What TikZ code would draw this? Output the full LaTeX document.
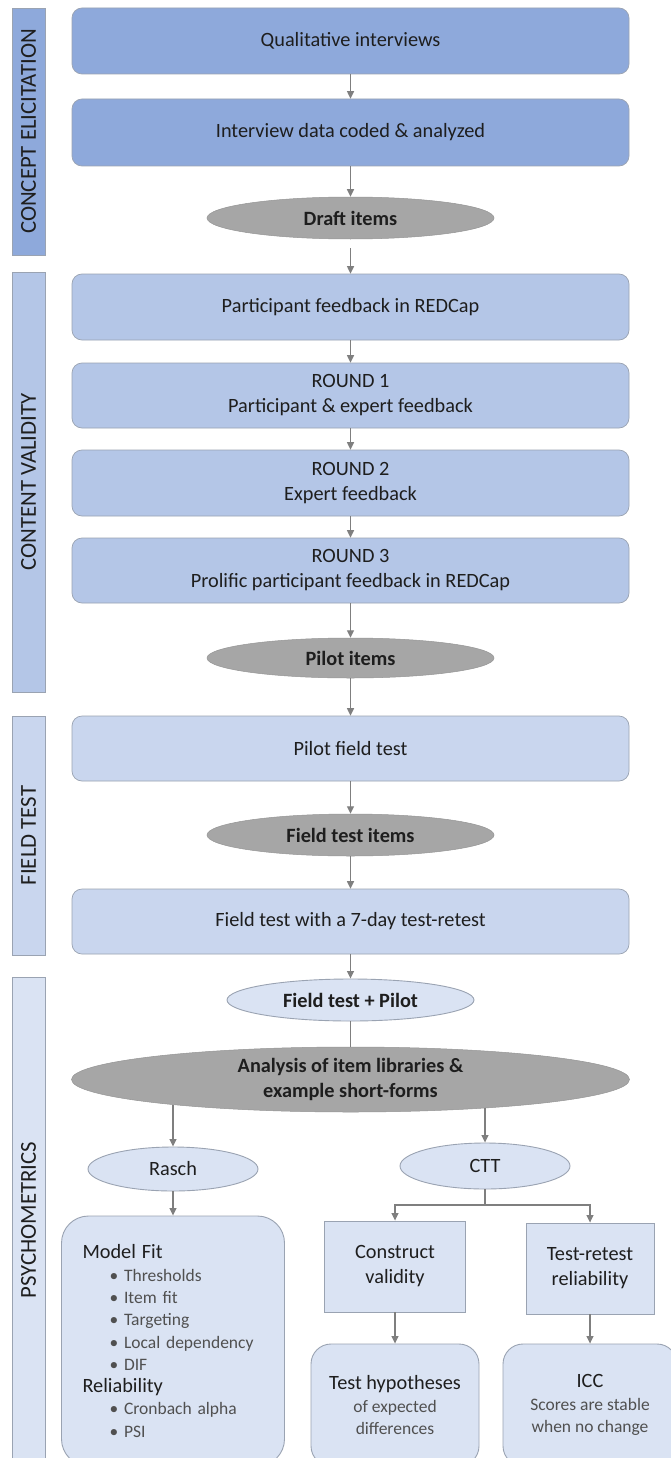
\documentclass[tikz,border=0pt]{standalone}
\usepackage{fontspec}
\setmainfont{Carlito}
\usetikzlibrary{shapes.geometric,arrows.meta}
\definecolor{conceptc}{HTML}{8EA9DB}
\definecolor{contentc}{HTML}{B4C6E7}
\definecolor{fieldc}{HTML}{C9D6EE}
\definecolor{psychc}{HTML}{DAE3F3}
\definecolor{ovalc}{HTML}{A6A6A6}
\definecolor{bordc}{HTML}{9AA3B2}
\definecolor{arrc}{HTML}{7F7F7F}
\definecolor{txtc}{HTML}{1E1E1E}
\definecolor{subc}{HTML}{505050}
\newcommand{\mainfs}{\fontsize{20.3}{25}\selectfont}
\newcommand{\smallfs}{\fontsize{17.5}{22.3}\selectfont}
\newcommand{\barfs}{\fontsize{22.8}{25}\selectfont}
\tikzset{
  stagebox/.style={draw=bordc, line width=0.7pt, rounded corners=10pt, minimum width=557pt, align=center, inner sep=0pt, font=\mainfs, text=txtc},
  greyoval/.style={ellipse, fill=ovalc, draw=ovalc!90!black, line width=0.5pt, inner sep=0pt, font=\mainfs\bfseries, text=txtc, align=center},
  lightoval/.style={ellipse, fill=psychc, draw=bordc, line width=0.9pt, inner sep=0pt, font=\mainfs, text=txtc},
  psychbox/.style={draw=bordc, line width=0.9pt, fill=psychc, inner sep=0pt, font=\mainfs, text=txtc},
  phasebar/.style={draw=bordc, line width=0.8pt, rotate=90, minimum height=33pt, inner sep=0pt, font=\barfs, text=txtc},
  arr/.style={draw=arrc, line width=1.2pt, -{Triangle[length=7.5pt,width=7pt]}},
  plainline/.style={draw=arrc, line width=1.2pt},
}
\begin{document}
\begin{tikzpicture}[x=1pt,y=-1pt]
\useasboundingbox (0,0) rectangle (671,1458);
\clip (0,0) rectangle (671,1458);
\fill[white] (0,0) rectangle (671,1458);

% phase bars
\node[phasebar, fill=conceptc, minimum width=247pt] (bar1) at (28.5,131.5) {CONCEPT ELICITATION};
\node[phasebar, fill=contentc, minimum width=420pt] (bar2) at (28.5,482) {CONTENT VALIDITY};
\node[phasebar, fill=fieldc, minimum width=239pt] (bar3) at (28.5,835.5) {FIELD TEST};
\node[phasebar, fill=psychc, minimum width=486pt] (bar4) at (28.5,1220) {PSYCHOMETRICS};

% concept elicitation
\node[stagebox, fill=conceptc, minimum height=66pt] (qi) at (350.5,41) {Qualitative interviews};
\node[stagebox, fill=conceptc, minimum height=67pt] (idc) at (350.5,132.5) {Interview data coded \& analyzed};
\node[greyoval, minimum width=287pt, minimum height=42pt] (draft) at (350.5,218) {Draft items};

% content validity
\node[stagebox, fill=contentc, minimum height=66pt] (pf) at (350.5,307) {Participant feedback in REDCap};
\node[stagebox, fill=contentc, minimum height=65pt] (r1) at (350.5,395.5) {ROUND 1\\Participant \& expert feedback};
\node[stagebox, fill=contentc, minimum height=66pt] (r2) at (350.5,483) {ROUND 2\\Expert feedback};
\node[stagebox, fill=contentc, minimum height=65pt] (r3) at (350.5,570.5) {ROUND 3\\Prolific participant feedback in REDCap};
\node[greyoval, minimum width=287pt, minimum height=40pt] (pilot) at (350.5,658) {Pilot items};

% field test
\node[stagebox, fill=fieldc, minimum height=65pt] (pft) at (350.5,748.5) {Pilot field test};
\node[greyoval, minimum width=287pt, minimum height=42pt] (fti) at (350.5,835) {Field test items};
\node[stagebox, fill=fieldc, minimum height=65pt] (ft7) at (350.5,921.5) {Field test with a 7-day test-retest};

% psychometrics
\node[lightoval, font=\mainfs\bfseries, minimum width=247pt, minimum height=42pt] (ftp) at (350.5,1000) {Field test + Pilot};
\node[greyoval, minimum width=558pt, minimum height=65pt] (ana) at (350.5,1079.5) {Analysis of item libraries \&\\example short-forms};
\node[lightoval, minimum width=170pt, minimum height=44pt] (rasch) at (173,1169) {Rasch};
\node[lightoval, minimum width=170pt, minimum height=46pt] (ctt) at (485,1166) {CTT};

\node[psychbox, rounded corners=27pt, minimum width=223pt, minimum height=250pt, text width=181pt, align=left, font=\smallfs] (mf) at (173,1341)
  {{\mainfs Model Fit}\\
   \hspace*{27pt}\textcolor{subc}{• Thresholds}\\
   \hspace*{27pt}\textcolor{subc}{• Item fit}\\
   \hspace*{27pt}\textcolor{subc}{• Targeting}\\
   \hspace*{27pt}\textcolor{subc}{• Local dependency}\\
   \hspace*{27pt}\textcolor{subc}{• DIF}\\
   {\mainfs Reliability}\\
   \hspace*{27pt}\textcolor{subc}{• Cronbach alpha}\\
   \hspace*{27pt}\textcolor{subc}{• PSI}};

\node[psychbox, minimum width=141pt, minimum height=91pt, align=center] (cv) at (395,1266.5) {Construct\\validity};
\node[psychbox, minimum width=128pt, minimum height=91pt, align=center] (tr) at (590,1268.5) {Test-retest\\reliability};
\node[psychbox, rounded corners=20pt, minimum width=168pt, minimum height=122pt, align=center, font=\fontsize{20.3}{22.5}\selectfont] (th) at (395,1405)
  {Test hypotheses\\{\smallfs\color{subc}of expected}\\{\smallfs\color{subc}differences}};
\node[psychbox, rounded corners=20pt, minimum width=174pt, minimum height=122pt, align=center, font=\fontsize{20.3}{22.5}\selectfont] (icc) at (590,1405)
  {ICC\\{\smallfs\color{subc}Scores are stable}\\{\smallfs\color{subc}when no change}};

% connectors
\draw[arr] (qi) -- (idc);
\draw[arr] (idc) -- (draft);
\draw[arr, shorten <=9pt] (draft) -- (pf);
\draw[arr] (pf) -- (r1);
\draw[arr] (r1) -- (r2);
\draw[arr] (r2) -- (r3);
\draw[arr] (r3) -- (pilot);
\draw[arr] (pilot) -- (pft);
\draw[arr] (pft) -- (fti);
\draw[arr] (fti) -- (ft7);
\draw[arr] (ft7) -- (ftp);
\draw[plainline] (ftp) -- (ana);
\draw[arr] (rasch.north |- ana.188) -- (rasch.north);
\draw[arr] (ctt.north |- ana.348) -- (ctt.north);
\draw[arr] (rasch) -- (mf);
\coordinate (split) at (485,1205);
\draw[plainline] (ctt) -- (split);
\draw[arr] (split) -| (cv.north);
\draw[arr] (split) -| (tr.north);
\draw[arr] (cv) -- (th);
\draw[arr] (tr) -- (icc);
\end{tikzpicture}
\end{document}
